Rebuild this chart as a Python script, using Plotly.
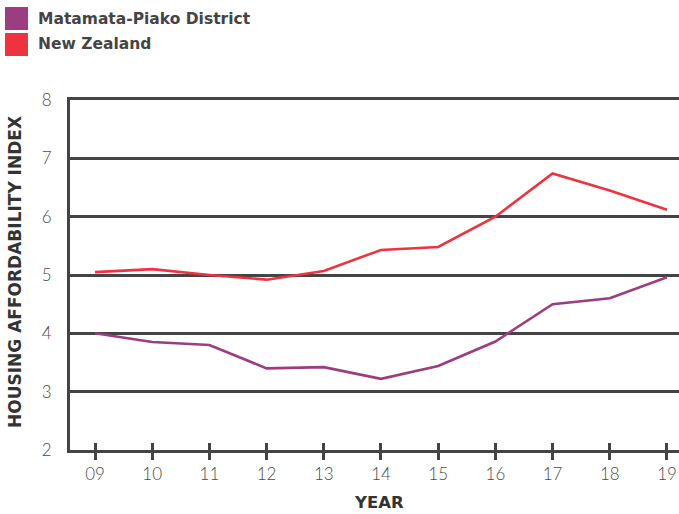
import plotly.graph_objects as go

years = [9, 10, 11, 12, 13, 14, 15, 16, 17, 18, 19]
year_labels = ["09", "10", "11", "12", "13", "14", "15", "16", "17", "18", "19"]
matamata = [4.0, 3.85, 3.8, 3.4, 3.42, 3.22, 3.44, 3.86, 4.5, 4.6, 4.96]
new_zealand = [5.05, 5.1, 5.0, 4.92, 5.07, 5.43, 5.48, 6.0, 6.74, 6.45, 6.12]
series_names = ["Matamata-Piako District", "New Zealand"]
series_colors = ["#9B3D7E", "#EE3340"]

fig = go.Figure()
for name, vals, col in zip(series_names, [matamata, new_zealand], series_colors):
    fig.add_trace(go.Scatter(x=years, y=vals, mode="lines", name=name,
                             line=dict(color=col, width=2.6), showlegend=False))

# dummy trace for overlay x-axis (inside ticks)
fig.add_trace(go.Scatter(x=[None], y=[None], xaxis="x2", showlegend=False))

axis_col = "#444444"
xr = [8.563, 19.21]
fig.update_layout(
    width=679, height=514,
    margin=dict(l=70, r=0, t=100, b=64),
    paper_bgcolor="white", plot_bgcolor="white",
    xaxis=dict(range=xr, tickvals=years, ticktext=year_labels,
               showgrid=False, zeroline=False, showline=True, mirror=True,
               linecolor=axis_col, linewidth=3,
               ticks="outside", ticklen=7, tickwidth=3, tickcolor=axis_col,
               tickfont=dict(family="Lato", size=17, color="#4a4a4a", weight=300)),
    xaxis2=dict(range=xr, tickvals=years, overlaying="x", anchor="y", side="bottom",
                showgrid=False, zeroline=False, showline=False,
                ticks="inside", ticklen=7, tickwidth=3, tickcolor=axis_col,
                showticklabels=False),
    yaxis=dict(range=[2, 8], tickvals=[2, 3, 4, 5, 6, 7, 8],
               showgrid=True, gridcolor=axis_col, gridwidth=3,
               zeroline=False, showline=True, linecolor=axis_col, linewidth=3,
               ticks="", ticklabelstandoff=12,
               tickfont=dict(family="Lato", size=17, color="#4a4a4a", weight=300)),
)

H = 350.0
W = 609.0
def px_x(p):
    return (p - 70) / W
def px_y(p):
    return (450 - p) / H

# legend squares + text
rows = [(7, 30), (33, 56)]
for (y0, y1), name, col in zip(rows, series_names, series_colors):
    fig.add_shape(type="rect", xref="paper", yref="paper",
                  x0=px_x(5), x1=px_x(28), y0=px_y(y1), y1=px_y(y0),
                  fillcolor=col, line=dict(width=0))
    fig.add_annotation(text=name, xref="paper", yref="paper",
                       x=px_x(36), y=px_y((y0 + y1) / 2), xanchor="left", yanchor="middle",
                       showarrow=False,
                       font=dict(family="DejaVu Sans", size=15.5, color="#444444", weight="bold"))

fig.add_annotation(text="HOUSING AFFORDABILITY INDEX", xref="paper", yref="paper",
                   x=px_x(15), y=px_y(272), xanchor="center", yanchor="middle",
                   textangle=-90, showarrow=False,
                   font=dict(family="DejaVu Sans", size=17, color="#333333", weight="bold"))
fig.add_annotation(text="YEAR", xref="paper", yref="paper",
                   x=px_x(379), y=px_y(502), xanchor="center", yanchor="middle",
                   showarrow=False,
                   font=dict(family="DejaVu Sans", size=16.5, color="#333333", weight="bold"))

fig.write_html("out.html", config={"displayModeBar": False},
               post_script="document.body.style.margin='0';")
